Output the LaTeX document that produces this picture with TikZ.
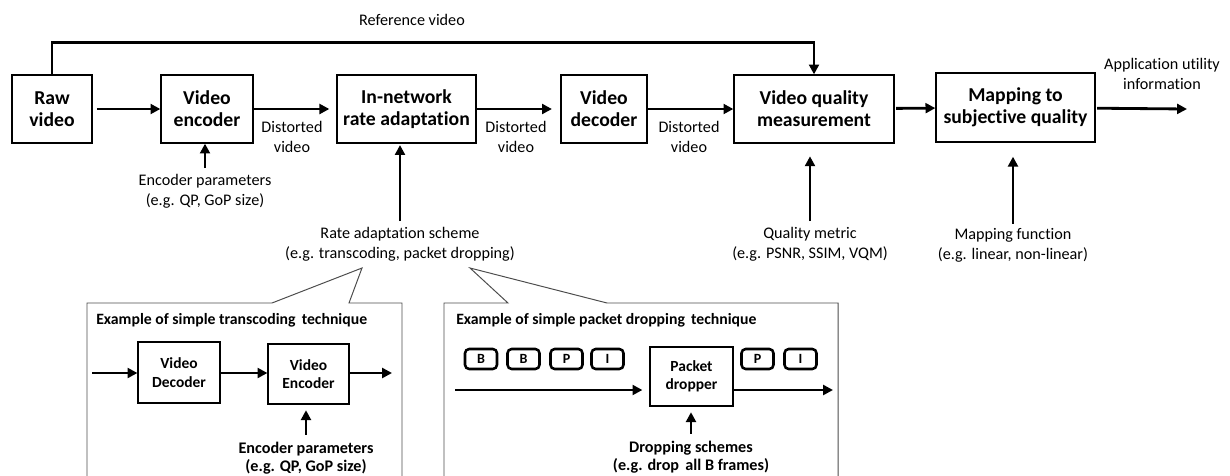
\documentclass[tikz,border=0pt]{standalone}
\usepackage{fontspec}
\setmainfont{Carlito}[Ligatures=NoCommon]
\usetikzlibrary{positioning, arrows.meta, calc}

\begin{document}
\begin{tikzpicture}[x=0.025cm, y=-0.025cm,
    blk/.style={draw, line width=0.9pt, align=center, inner sep=0pt, font=\bfseries\fontsize{14}{15.6}\selectfont},
    sblk/.style={draw, line width=0.8pt, align=center, inner sep=0pt, font=\bfseries\fontsize{11}{13}\selectfont},
    pkt/.style={draw, rounded corners=3pt, line width=1.8pt, minimum width=0.8cm, minimum height=0.5cm, inner sep=0pt, font=\bfseries\fontsize{10}{10}\selectfont},
    lbl/.style={align=center, inner sep=0pt, font=\fontsize{11.5}{14.2}\selectfont},
    blbl/.style={align=center, inner sep=0pt, font=\bfseries\fontsize{11.5}{13}\selectfont},
    ttl/.style={anchor=west, inner sep=0pt, font=\bfseries\fontsize{11.2}{12}\selectfont},
    arr/.style={-{Triangle[length=7pt, width=7pt]}, line width=2pt},
    callout/.style={draw=black!70, line width=0.7pt}]
  \clip (0,0) rectangle (1230,475);

  % main chain
  \node[blk, minimum width=2cm, minimum height=1.7cm] (raw) at (52,109) {Raw\\video};
  \node[blk, minimum width=2.3cm, minimum height=1.7cm] (enc) at (207,109) {Video\\encoder};
  \node[blk, minimum width=3.475cm, minimum height=1.7cm] (rate) at (406.5,109) {In-network\\rate adaptation};
  \node[blk, minimum width=2.15cm, minimum height=1.7cm] (dec) at (604,109) {Video\\decoder};
  \node[blk, minimum width=4cm, minimum height=1.7cm] (vqm) at (814,109) {Video quality\\measurement};
  \node[blk, minimum width=3.975cm, minimum height=1.725cm] (map) at (1015.5,107.5) {Mapping to\\subjective quality};
  \coordinate (out) at (1187,109);

  \draw[arr, shorten <=3pt] (raw) -- (enc);
  \draw[arr, shorten >=5pt] (enc) -- (rate);
  \draw[arr, shorten >=6pt] (rate) -- (dec);
  \draw[arr] (dec) -- (vqm);
  \draw[arr, shorten <=1pt] (vqm) -- (map);
  \draw[arr, shorten <=1pt] (map) -- (out);

  % reference path
  \draw[arr] (raw.north) -- ++(0,-32) -| (vqm.north);
  \node[lbl] (reflbl) at (412,20) {Reference video};

  \node[lbl] (dv1) at (292,137) {Distorted\\video};
  \node[lbl] (dv2) at (516,137) {Distorted\\video};
  \node[lbl] (dv3) at (689,137) {Distorted\\video};
  \node[lbl] (app) at (1162,74) {Application utility\\information};

  % side inputs
  \node[lbl] (encpar) at (205,191) {Encoder parameters\\(e.g. QP, GoP size)};
  \node[lbl] (ratepar) at (400,244) {Rate adaptation scheme\\(e.g. transcoding, packet dropping)};
  \node[lbl] (metric) at (810,244) {Quality metric\\(e.g. PSNR, SSIM, VQM)};
  \node[lbl] (mapfun) at (1013,245) {Mapping function\\(e.g. linear, non-linear)};

  \draw[arr, shorten <=4pt] (encpar.north) -- (encpar.north |- enc.south);
  \draw[arr, shorten <=4pt, shorten >=1pt] (ratepar.north) -- (ratepar.north |- rate.south);
  \draw[arr, shorten <=4pt, shorten >=9pt] (metric.north) -- (metric.north |- vqm.south);
  \draw[arr, shorten <=3pt, shorten >=10pt] (mapfun.north) -- (mapfun.north |- map.south);

  % callout boxes
  \draw[callout] (87,520) -- (87,303) -- (272,303) -- (362,268) -- (349,303) -- (402,303) -- (402,520);
  \draw[callout] (444,520) -- (444,303) -- (508,303) -- (470,268) -- (607,303) -- (838,303) -- (838,520);

  % transcoding example
  \node[ttl] (ttl1) at (96,320) {Example of simple transcoding\, technique};
  \node[sblk, minimum width=2.05cm, minimum height=1.525cm] (vdec) at (179,372.5) {Video\\Decoder};
  \node[sblk, minimum width=2.025cm, minimum height=1.5cm] (venc) at (308.5,374) {Video\\Encoder};
  \coordinate (tin) at (92,373);
  \coordinate (tout) at (392,373);
  \draw[arr] (tin) -- (tin -| vdec.west);
  \draw[arr] (vdec.east |- tin) -- (tin -| venc.west);
  \draw[arr] (venc.east |- tin) -- (tout);
  \node[blbl] (tpar) at (306,458) {Encoder parameters\\(e.g. QP, GoP size)};
  \draw[arr, shorten <=5pt, shorten >=4pt] (tpar.north) -- (tpar.north |- venc.south);

  % packet dropping example
  \node[ttl] (ttl2) at (456,320) {Example of simple packet dropping\, technique};
  \node[sblk, minimum width=2.075cm, minimum height=1.475cm] (drop) at (691.5,376.5) {Packet\\dropper};
  \node[pkt] (b1) at (481,359) {B};
  \node[pkt] (b2) at (523.5,359) {B};
  \node[pkt] (p1) at (566.5,359) {P};
  \node[pkt] (i1) at (607.5,359) {I};
  \node[pkt] (p2) at (757.5,359) {P};
  \node[pkt] (i2) at (800.5,359) {I};
  \coordinate (din) at (455,390);
  \coordinate (dout) at (833,390);
  \draw[arr, shorten >=5pt] (din) -- (din -| drop.west);
  \draw[arr] (drop.east |- din) -- (dout);
  \node[blbl] (dpar) at (691,457) {Dropping schemes\\(e.g. drop\, all B frames)};
  \draw[arr, shorten <=5pt, shorten >=4pt] (dpar.north) -- (dpar.north |- drop.south);
\end{tikzpicture}
\end{document}
